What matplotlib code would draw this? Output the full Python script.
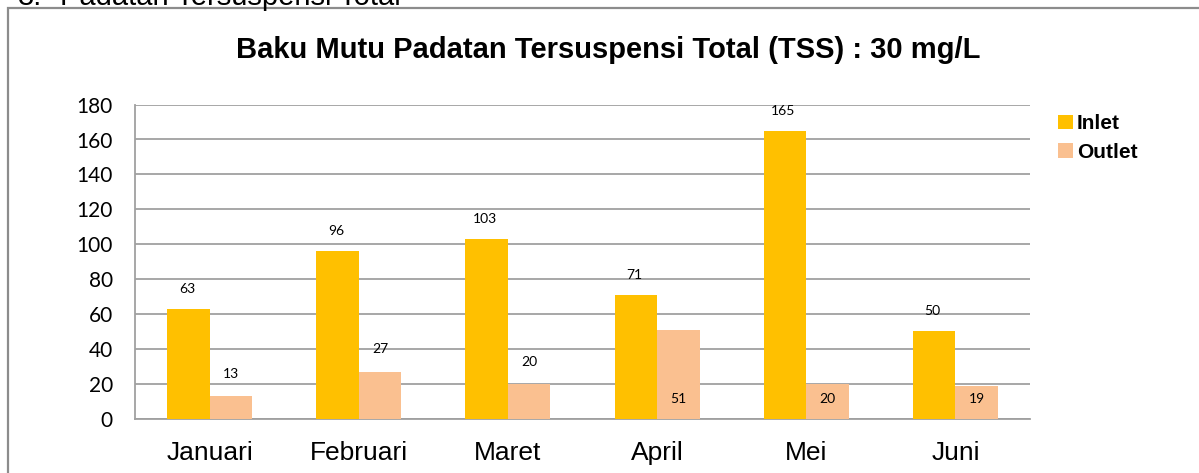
import matplotlib.pyplot as plt
import matplotlib.patches as mpatches
import numpy as np

# data
months = ['Januari', 'Februari', 'Maret', 'April', 'Mei', 'Juni']
inlet = [63, 96, 103, 71, 165, 50]
outlet = [13, 27, 20, 51, 20, 19]
outlet_label_inside = [False, False, False, True, True, True]

W, H = 1199, 473
fig = plt.figure(figsize=(W / 100, H / 100), dpi=100)
ax = fig.add_axes([135 / W, 1 - 418.7 / H, 895 / W, (418.7 - 104.6) / H])

# frame around the chart (runs off right and bottom)
frame = mpatches.Rectangle((8 / W, -0.1), 1.2, (H - 8) / H + 0.1,
                           transform=fig.transFigure, fill=False,
                           edgecolor='#8c8c8c', linewidth=1.6)
fig.patches.append(frame)

# cut-off heading above the frame (as in the reference)
fig.text(18 / W, 1 - 5 / H, '3.', fontsize=21, family='Liberation Sans', va='baseline')
fig.text(60 / W, 1 - 5 / H, 'Padatan Tersuspensi Total', fontsize=21,
         family='Liberation Sans', va='baseline')

fig.text(608 / W, 1 - 50 / H, 'Baku Mutu Padatan Tersuspensi Total (TSS) : 30 mg/L',
         fontsize=21, fontweight='bold', family='Liberation Sans',
         ha='center', va='center')

x = np.arange(len(months))
bw = 0.285
b1 = ax.bar(x - bw / 2, inlet, bw, color='#FFC000', label='Inlet', zorder=3)
b2 = ax.bar(x + bw / 2, outlet, bw, color='#FAC090', label='Outlet', zorder=3)

for rect, v in zip(b1, inlet):
    ax.annotate(str(v), (rect.get_x() + rect.get_width() / 2 - 0.01, v),
                xytext=(0, 14.4), textcoords='offset points',
                ha='center', va='center', fontsize=10, family='Lato')
for rect, v, inside in zip(b2, outlet, outlet_label_inside):
    cx = rect.get_x() + rect.get_width() / 2
    if inside:
        ax.annotate(str(v), (cx, 0), xytext=(0, 14), textcoords='offset points',
                    ha='center', va='center', fontsize=10, family='Lato')
    else:
        ax.annotate(str(v), (cx, v), xytext=(0, 16), textcoords='offset points',
                    ha='center', va='center', fontsize=10, family='Lato')

ax.set_xlim(-0.5, len(months) - 0.5)
ax.set_ylim(0, 180)
ax.set_yticks(range(0, 181, 20))
ax.set_xticks(x)
ax.set_xticklabels(months, fontsize=19, family='Liberation Sans')
for lab in ax.get_yticklabels():
    lab.set_family('Lato')
    lab.set_fontsize(15)
ax.tick_params(axis='both', length=0)
ax.tick_params(axis='x', pad=16)
ax.tick_params(axis='y', pad=16)

ax.grid(axis='y', color='#a0a0a0', linewidth=1.3, zorder=0)
for s in ['top', 'right']:
    ax.spines[s].set_visible(False)
for s in ['left', 'bottom']:
    ax.spines[s].set_color('#a0a0a0')
    ax.spines[s].set_linewidth(1.3)

leg = fig.legend(handles=[b1, b2], loc='upper left',
                 bbox_to_anchor=(1050 / W, 1 - 106 / H),
                 frameon=False, prop={'family': 'Liberation Sans', 'weight': 'bold', 'size': 15},
                 handlelength=0.7, handleheight=0.7, handletextpad=0.2, labelspacing=0.45,
                 borderaxespad=0)

fig.savefig('out.png', dpi=100)
